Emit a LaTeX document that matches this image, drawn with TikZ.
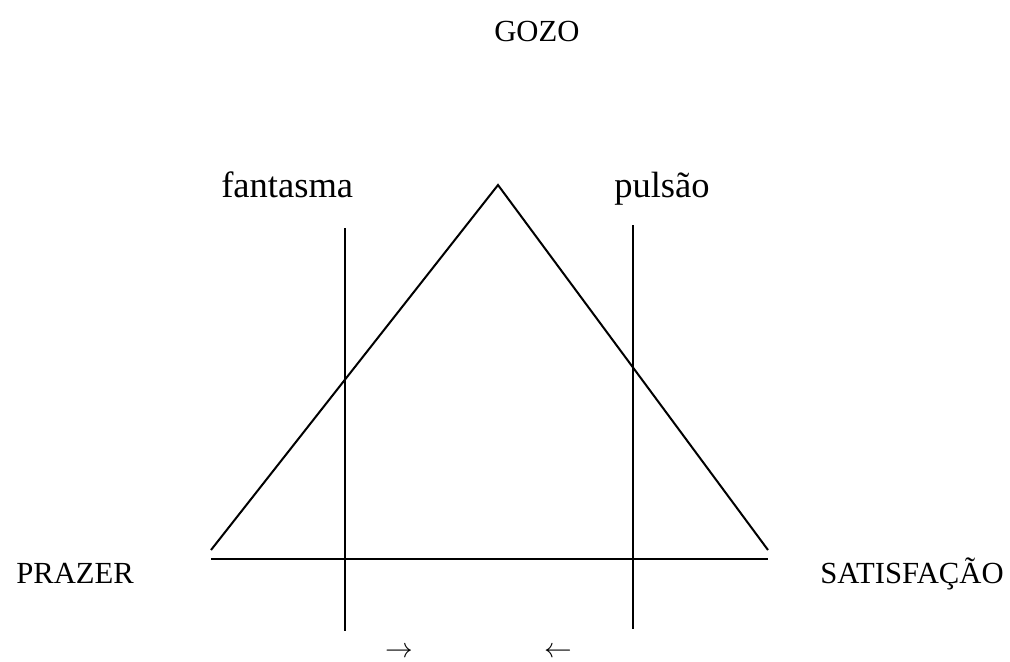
\documentclass[tikz,border=0pt]{standalone}
\usepackage{fontspec}
\setmainfont{Liberation Serif}
\usepackage{tikz}

\begin{document}
\begin{tikzpicture}[x=0.75pt,y=-0.75pt,
  caps/.style={font=\fontsize{23}{26}\selectfont, inner sep=0pt},
  lower/.style={font=\fontsize{27.4}{30}\selectfont, inner sep=0pt},
  side/.style={line width=1.5pt},
  seta/.style={font=\fontsize{22}{24}\selectfont, inner sep=0pt}]
  \useasboundingbox (0,0) rectangle (1010,661);
  \coordinate (apex) at (498,185);
  \coordinate (sl) at (211,550);
  \coordinate (sr) at (768,550);
  \coordinate (bl) at (211,559);
  \coordinate (br) at (768,559);
  \coordinate (ft) at (345,228);
  \coordinate (fb) at (345,631);
  \coordinate (pt) at (633,225);
  \coordinate (pb) at (633,629);
  \draw[side] (sl) -- (apex) -- (sr);
  \draw[line width=2.2pt] (bl) -- (br);
  \draw[side] (ft) -- (fb);
  \draw[side] (pt) -- (pb);
  \node[caps, anchor=base west] (gozo) at (494,41) {GOZO};
  \node[caps, anchor=base west] (prazer) at (16,583) {PRAZER};
  \node[caps, anchor=base east] (satisf) at (1004,583) {SATISFAÇÃO};
  \node[lower, anchor=base west] (fant) at (221,197) {fantasma};
  \node[lower, anchor=base west] (puls) at (614,197) {pulsão};
  \node[seta] (dir) at (399,652) {$\rightarrow$};
  \node[seta] (esq) at (558,652) {$\leftarrow$};
\end{tikzpicture}
\end{document}
